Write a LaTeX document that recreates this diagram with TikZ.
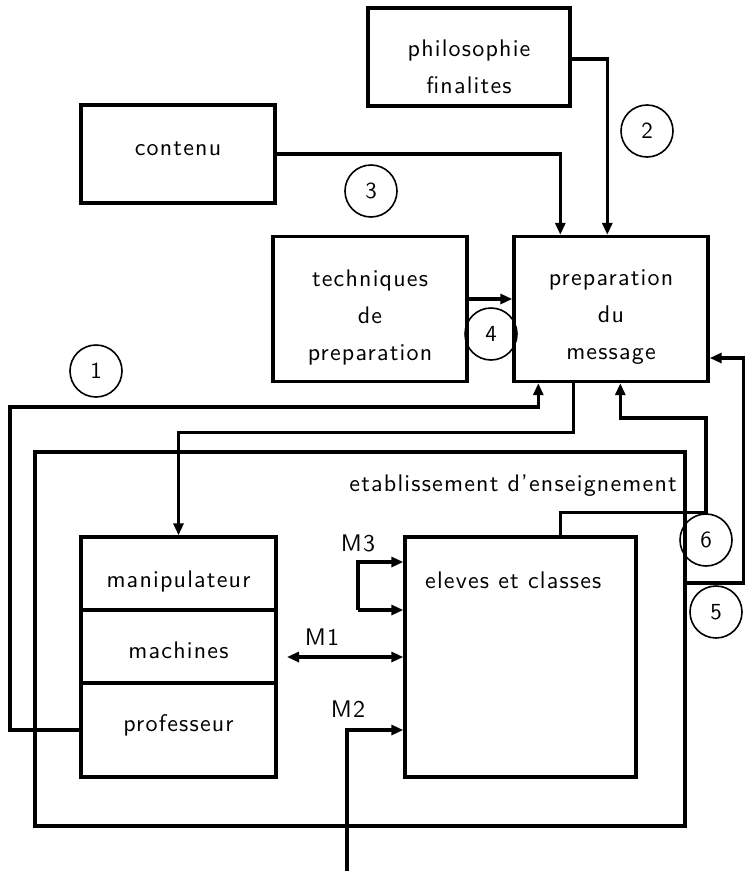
\documentclass[tikz,border=0pt]{standalone}
\usepackage{fontspec}
\newfontfamily\lsans{lmsans10-regular.otf}[LetterSpace=5]
\usetikzlibrary{arrows.meta}
\begin{document}
\begin{tikzpicture}[x=1pt,y=-1pt,
  txt/.style={font=\lsans\fontsize{24}{37}\selectfont,inner sep=0pt,align=center},
  box/.style={draw,line width=3.4pt,inner sep=0pt},
  num/.style={draw,circle,line width=1.6pt,minimum size=52pt,inner sep=0pt,
    font=\lsans\fontsize{23}{26}\selectfont},
  link/.style={line width=3.4pt,-{Triangle[length=12pt,width=10pt]}},
  both/.style={line width=3.4pt,{Triangle[length=12pt,width=10pt]}-{Triangle[length=12pt,width=10pt]}}]
\useasboundingbox (0,0) rectangle (749,873);

% upper blocks
\node[box,minimum width=202pt,minimum height=98pt] (phil) at (469,57) {};
\node[box,minimum width=194pt,minimum height=98pt] (cont) at (178,154) {};
\node[box,minimum width=194pt,minimum height=145pt] (tech) at (370,309) {};
\node[box,minimum width=194pt,minimum height=145pt] (prep) at (611,309) {};
\node[txt] (philt) at (469,67) {philosophie\\finalites};
\node[txt,anchor=base] (contt) at (178,155) {contenu};
\node[txt] (techt) at (370,317) {techniques\\de\\preparation};
\node[txt] (prept) at (611,317) {preparation\\du\\message};

% school frame
\node[box,minimum width=650pt,minimum height=374pt] (etab) at (360,639) {};
\node[txt,anchor=east] (etabl) at (677,486) {etablissement d’enseignement};

% left stack
\node[box,minimum width=195pt,minimum height=73pt] (manip) at (178.5,573.5) {};
\node[box,minimum width=195pt,minimum height=73pt] (mach) at (178.5,646.5) {};
\node[box,minimum width=195pt,minimum height=94pt] (prof) at (178.5,730) {};
\node[txt,anchor=base] (manipt) at (178.5,587) {manipulateur};
\node[txt,anchor=base] (macht) at (178.5,658) {machines};
\node[txt,anchor=base] (proft) at (178.5,731) {professeur};

% pupils
\node[box,minimum width=231pt,minimum height=240pt] (elev) at (520.5,657) {};
\node[txt,anchor=west] (elevl) at (425,580) {eleves et classes};

% numbered markers
\node[num] (n1) at (96,371) {1};
\node[num] (n2) at (647,131) {2};
\node[num] (n3) at (371,191) {3};
\node[num] (n4) at (491,334) {4};
\node[num] (n5) at (716,612) {5};
\node[num] (n6) at (706,540) {6};

% message channels
\node[txt] (m3l) at (358,543) {M3};
\node[txt] (m1l) at (322,637) {M1};
\node[txt] (m2l) at (348,709) {M2};

\coordinate (m3b) at (358,610);
\coordinate (m1) at (287,657);
\coordinate (m2) at (347,871);

% flows into preparation
\draw[link] ([yshift=-2pt]phil.east) -| ([xshift=95pt]prep.north west);
\draw[link] (cont.east) -| ([xshift=48pt]prep.north west);
\draw[link] ([yshift=10pt]tech.east) -- ([yshift=10pt]prep.west);
\draw[link] (prof.west) -| (10,407) -| ([xshift=26pt]prep.south west);
\draw[link] ([xshift=61pt]prep.south west) -- ++(0,49) -| (manip.north);
\draw[link] ([yshift=56pt]etab.east) -- ++(57,0) |- ([yshift=-49pt]prep.east);
\draw[link] ([xshift=157pt]elev.north west) -- ++(0,-23) -| (706,418) -| ([xshift=108pt]prep.south west);

% channels into the class
\draw[link] (m3b) -- (elev.west |- m3b);
\draw[link] (m3b) |- ([yshift=95pt]elev.west);
\draw[both] (m1) -- (elev.west);
\draw[link] (m2) |- ([yshift=-73pt]elev.west);
\end{tikzpicture}
\end{document}
